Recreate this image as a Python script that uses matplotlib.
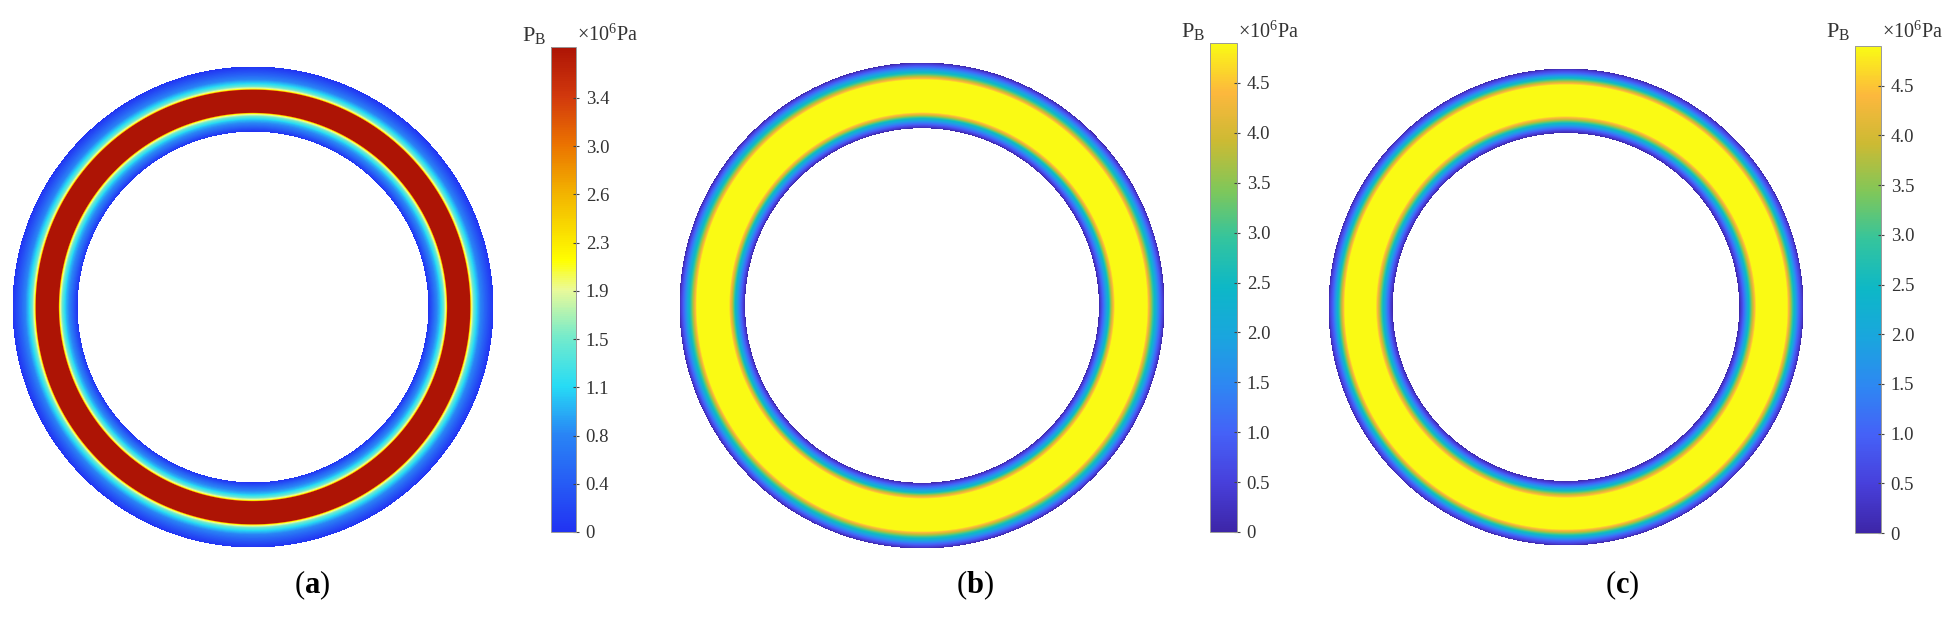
import numpy as np
import matplotlib
matplotlib.use("Agg")
import matplotlib.pyplot as plt
from matplotlib.colors import LinearSegmentedColormap, Normalize
from matplotlib.cm import ScalarMappable

plt.rcParams['font.family'] = ['Liberation Serif', 'DejaVu Serif']
plt.rcParams['mathtext.fontset'] = 'custom'
plt.rcParams['mathtext.rm'] = 'Liberation Serif'
plt.rcParams['mathtext.it'] = 'Liberation Serif:italic'
plt.rcParams['mathtext.bf'] = 'Liberation Serif:bold'

# ---------------- data ----------------
R_INNER = 0.733
R_OUTER = 1.0

# radial position across the ring (0 = inner edge, 1 = outer edge) and pressure (x10^6 Pa)
s_a = [0, 0.06, 0.12, 0.18, 0.24, 0.28, 0.30, 0.63, 0.65, 0.69, 0.74, 0.80, 0.87, 0.94, 1.0]
p_a = [0, 0.35, 0.70, 1.00, 1.50, 2.10, 3.79, 3.79, 2.10, 1.50, 1.10, 0.75, 0.45, 0.20, 0]

s_b = [0, 0.05, 0.10, 0.15, 0.20, 0.25, 0.73, 0.78, 0.83, 0.88, 0.93, 0.97, 1.0]
p_b = [0, 0.8, 1.6, 2.5, 3.9, 4.9, 4.9, 3.9, 2.8, 1.9, 1.1, 0.5, 0]

s_c = [0, 0.05, 0.10, 0.15, 0.21, 0.27, 0.74, 0.79, 0.84, 0.89, 0.93, 0.97, 1.0]
p_c = [0, 0.7, 1.5, 2.4, 3.8, 4.9, 4.9, 3.9, 2.7, 1.7, 1.0, 0.5, 0]

vmax_a = 3.79
ticks_a = [0, 0.377, 0.754, 1.131, 1.508, 1.885, 2.262, 2.639, 3.016, 3.393]
ticklabels_a = ['0', '0.4', '0.8', '1.1', '1.5', '1.9', '2.3', '2.6', '3.0', '3.4']

vmax_bc = 4.9
ticks_bc = [0, 0.5, 1.0, 1.5, 2.0, 2.5, 3.0, 3.5, 4.0, 4.5]
ticklabels_bc = ['0', '0.5', '1.0', '1.5', '2.0', '2.5', '3.0', '3.5', '4.0', '4.5']

panel_labels = ['a', 'b', 'c']

# ---------------- colormaps ----------------
cmap_a = LinearSegmentedColormap.from_list('jet_like', [
    (0.00, (0.13, 0.20, 0.95)),
    (0.10, (0.15, 0.36, 0.96)),
    (0.20, (0.16, 0.52, 0.96)),
    (0.30, (0.15, 0.86, 0.96)),
    (0.40, (0.45, 0.92, 0.80)),
    (0.50, (0.92, 0.98, 0.60)),
    (0.56, (1.00, 1.00, 0.00)),
    (0.70, (0.95, 0.70, 0.00)),
    (0.80, (0.92, 0.45, 0.00)),
    (0.90, (0.82, 0.22, 0.05)),
    (1.00, (0.68, 0.08, 0.02)),
])
cmap_bc = LinearSegmentedColormap.from_list('parula_like', [
    (0.00, (0.24, 0.15, 0.66)),
    (0.10, (0.28, 0.25, 0.86)),
    (0.20, (0.27, 0.38, 0.97)),
    (0.30, (0.18, 0.53, 0.95)),
    (0.40, (0.10, 0.65, 0.87)),
    (0.50, (0.05, 0.72, 0.78)),
    (0.60, (0.20, 0.77, 0.62)),
    (0.70, (0.50, 0.78, 0.35)),
    (0.80, (0.80, 0.73, 0.20)),
    (0.90, (0.99, 0.72, 0.24)),
    (1.00, (0.98, 0.98, 0.08)),
])

W, H = 1959, 621
fig = plt.figure(figsize=(W / 100, H / 100), dpi=100)


def frac(x0, y0, w, h):
    return [x0 / W, (H - y0 - h) / H, w / W, h / H]


panels = [
    dict(s=s_a, p=p_a, vmax=vmax_a, cmap=cmap_a, ticks=ticks_a, tl=ticklabels_a,
         ax=(13, 67, 480, 480), cb=(551, 47, 25, 485), lab=312, hy=35),
    dict(s=s_b, p=p_b, vmax=vmax_bc, cmap=cmap_bc, ticks=ticks_bc, tl=ticklabels_bc,
         ax=(680, 63, 484, 485), cb=(1210, 43, 27, 489), lab=975, hy=32),
    dict(s=s_c, p=p_c, vmax=vmax_bc, cmap=cmap_bc, ticks=ticks_bc, tl=ticklabels_bc,
         ax=(1329, 69, 474, 476), cb=(1855, 46, 26, 487), lab=1622, hy=32),
]

theta = np.linspace(0, 2 * np.pi, 721)
for pan, lab in zip(panels, panel_labels):
    ax = fig.add_axes(frac(*pan['ax']))
    r = R_INNER + np.asarray(pan['s']) * (R_OUTER - R_INNER)
    TH, RR = np.meshgrid(theta, r)
    X = RR * np.cos(TH)
    Y = RR * np.sin(TH)
    C = np.tile(np.asarray(pan['p'])[:, None], (1, theta.size))
    levels = np.linspace(0, pan['vmax'] * 1.001, 300)
    ax.contourf(X, Y, C, levels=levels, cmap=pan['cmap'],
                norm=Normalize(0, pan['vmax'] * 1.001))
    ax.set_xlim(-1, 1)
    ax.set_ylim(-1, 1)
    ax.set_aspect('auto')
    ax.axis('off')

    cx, cy, cw, ch = pan['cb']
    cax = fig.add_axes(frac(cx, cy, cw, ch))
    sm = ScalarMappable(norm=Normalize(0, pan['vmax']), cmap=pan['cmap'])
    cb = fig.colorbar(sm, cax=cax, ticks=pan['ticks'])
    cb.ax.set_yticklabels(pan['tl'])
    cb.ax.tick_params(direction='inout', length=4, width=0.8, colors='#444444',
                      labelsize=13.5, labelcolor='#333333', pad=5)
    cb.outline.set_linewidth(0.7)
    cb.outline.set_edgecolor('#999999')

    fig.text((cx - 5) / W, 1 - pan['hy'] / H, r'P$_\mathrm{B}$', ha='right', va='center',
             fontsize=16, color='#333333')
    fig.text((cx + cw + 1) / W, 1 - pan['hy'] / H, r'×10$^\mathrm{6}$Pa', ha='left', va='center',
             fontsize=14.5, color='#333333')

    fig.text(pan['lab'] / W, 1 - 585 / H, r'($\mathbf{%s}$)' % lab, ha='center', va='center',
             fontsize=22, color='black')

fig.savefig('out.png', dpi=100)
